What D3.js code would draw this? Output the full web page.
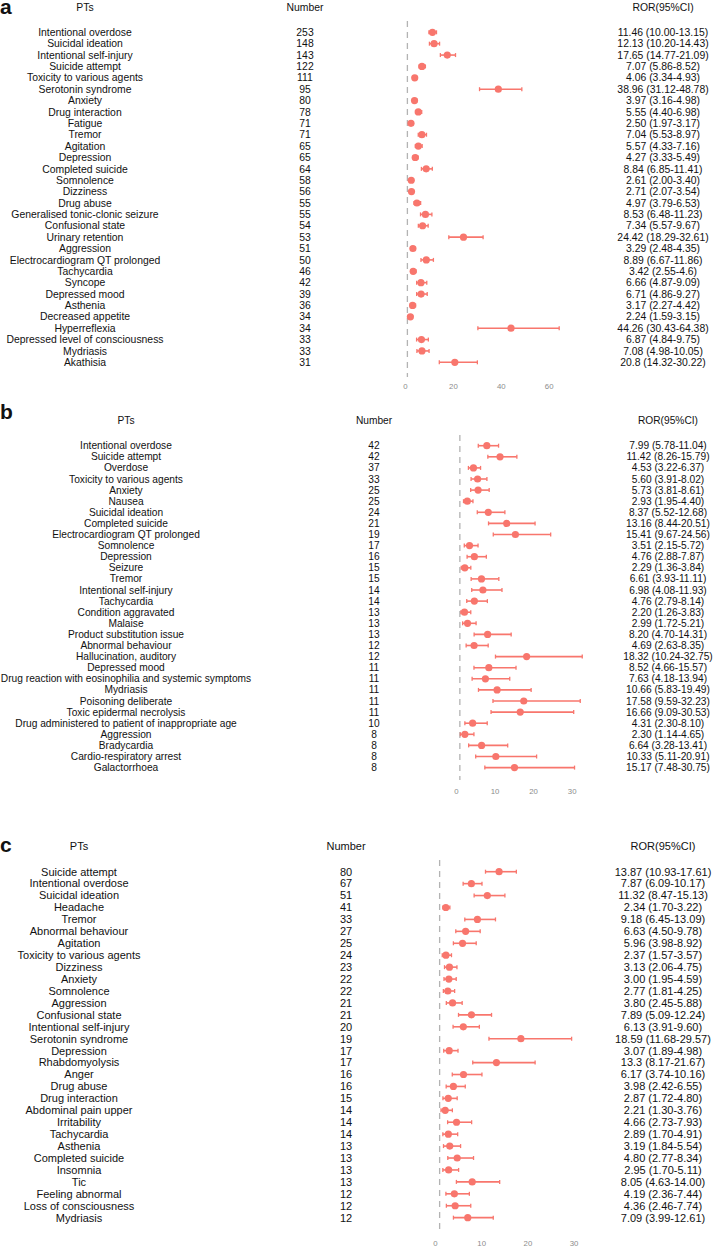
<!DOCTYPE html>
<html>
<head>
<meta charset="utf-8">
<script src="https://cdn.jsdelivr.net/npm/d3@7"></script>
<style>
    body { margin: 0; background: #fff; }
    svg text { font-family: "Liberation Sans", Arial, sans-serif; fill: #111; }
    text.tick { fill: #8c8c8c; }
</style>
</head>
<body>
<script>
// ---- panel a data ----
var aPTs = ["Intentional overdose", "Suicidal ideation", "Intentional self-injury", "Suicide attempt",
    "Toxicity to various agents", "Serotonin syndrome", "Anxiety", "Drug interaction", "Fatigue", "Tremor",
    "Agitation", "Depression", "Completed suicide", "Somnolence", "Dizziness", "Drug abuse",
    "Generalised tonic-clonic seizure", "Confusional state", "Urinary retention", "Aggression",
    "Electrocardiogram QT prolonged", "Tachycardia", "Syncope", "Depressed mood", "Asthenia",
    "Decreased appetite", "Hyperreflexia", "Depressed level of consciousness", "Mydriasis", "Akathisia"];
var aNumber = [253, 148, 143, 122, 111, 95, 80, 78, 71, 71, 65, 65, 64, 58, 56, 55, 55, 54, 53, 51,
    50, 46, 42, 39, 36, 34, 34, 33, 33, 31];
var aRor = ["11.46", "12.13", "17.65", "7.07", "4.06", "38.96", "3.97", "5.55", "2.50", "7.04", "5.57", "4.27",
    "8.84", "2.61", "2.71", "4.97", "8.53", "7.34", "24.42", "3.29", "8.89", "3.42", "6.66", "6.71", "3.17",
    "2.24", "44.26", "6.87", "7.08", "20.8"];
var aLo = ["10.00", "10.20", "14.77", "5.86", "3.34", "31.12", "3.16", "4.40", "1.97", "5.53", "4.33", "3.33",
    "6.85", "2.00", "2.07", "3.79", "6.48", "5.57", "18.29", "2.48", "6.67", "2.55", "4.87", "4.86", "2.27",
    "1.59", "30.43", "4.84", "4.98", "14.32"];
var aHi = ["13.15", "14.43", "21.09", "8.52", "4.93", "48.78", "4.98", "6.98", "3.17", "8.97", "7.16", "5.49",
    "11.41", "3.40", "3.54", "6.53", "11.23", "9.67", "32.61", "4.35", "11.86", "4.6", "9.09", "9.27", "4.42",
    "3.15", "64.38", "9.75", "10.05", "30.22"];
var aTicks = [0, 20, 40, 60];

// ---- panel b data ----
var bPTs = ["Intentional overdose", "Suicide attempt", "Overdose", "Toxicity to various agents", "Anxiety",
    "Nausea", "Suicidal ideation", "Completed suicide", "Electrocardiogram QT prolonged", "Somnolence",
    "Depression", "Seizure", "Tremor", "Intentional self-injury", "Tachycardia", "Condition aggravated",
    "Malaise", "Product substitution issue", "Abnormal behaviour", "Hallucination, auditory", "Depressed mood",
    "Drug reaction with eosinophilia and systemic symptoms", "Mydriasis", "Poisoning deliberate",
    "Toxic epidermal necrolysis", "Drug administered to patient of inappropriate age", "Aggression",
    "Bradycardia", "Cardio-respiratory arrest", "Galactorrhoea"];
var bNumber = [42, 42, 37, 33, 25, 25, 24, 21, 19, 17, 16, 15, 15, 14, 14, 13, 13, 13, 12, 12, 11, 11, 11,
    11, 11, 10, 8, 8, 8, 8];
var bRor = ["7.99", "11.42", "4.53", "5.60", "5.73", "2.93", "8.37", "13.16", "15.41", "3.51", "4.76", "2.29",
    "6.61", "6.98", "4.76", "2.20", "2.99", "8.20", "4.69", "18.32", "8.52", "7.63", "10.66", "17.58", "16.66",
    "4.31", "2.30", "6.64", "10.33", "15.17"];
var bLo = ["5.78", "8.26", "3.22", "3.91", "3.81", "1.95", "5.52", "8.44", "9.67", "2.15", "2.88", "1.36",
    "3.93", "4.08", "2.79", "1.26", "1.72", "4.70", "2.63", "10.24", "4.66", "4.18", "5.83", "9.59", "9.09",
    "2.30", "1.14", "3.28", "5.11", "7.48"];
var bHi = ["11.04", "15.79", "6.37", "8.02", "8.61", "4.40", "12.68", "20.51", "24.56", "5.72", "7.87", "3.84",
    "11.11", "11.93", "8.14", "3.83", "5.21", "14.31", "8.35", "32.75", "15.57", "13.94", "19.49", "32.23",
    "30.53", "8.10", "4.65", "13.41", "20.91", "30.75"];
var bTicks = [0, 10, 20, 30];

// ---- panel c data ----
var cPTs = ["Suicide attempt", "Intentional overdose", "Suicidal ideation", "Headache", "Tremor",
    "Abnormal behaviour", "Agitation", "Toxicity to various agents", "Dizziness", "Anxiety", "Somnolence",
    "Aggression", "Confusional state", "Intentional self-injury", "Serotonin syndrome", "Depression",
    "Rhabdomyolysis", "Anger", "Drug abuse", "Drug interaction", "Abdominal pain upper", "Irritability",
    "Tachycardia", "Asthenia", "Completed suicide", "Insomnia", "Tic", "Feeling abnormal",
    "Loss of consciousness", "Mydriasis"];
var cNumber = [80, 67, 51, 41, 33, 27, 25, 24, 23, 22, 22, 21, 21, 20, 19, 17, 17, 16, 16, 15, 14, 14, 14,
    13, 13, 13, 13, 12, 12, 12];
var cRor = ["13.87", "7.87", "11.32", "2.34", "9.18", "6.63", "5.96", "2.37", "3.13", "3.00", "2.77", "3.80",
    "7.89", "6.13", "18.59", "3.07", "13.3", "6.17", "3.98", "2.87", "2.21", "4.66", "2.89", "3.19", "4.80",
    "2.95", "8.05", "4.19", "4.36", "7.09"];
var cLo = ["10.93", "6.09", "8.47", "1.70", "6.45", "4.50", "3.98", "1.57", "2.06", "1.95", "1.81", "2.45",
    "5.09", "3.91", "11.68", "1.89", "8.17", "3.74", "2.42", "1.72", "1.30", "2.73", "1.70", "1.84", "2.77",
    "1.70", "4.63", "2.36", "2.46", "3.99"];
var cHi = ["17.61", "10.17", "15.13", "3.22", "13.09", "9.78", "8.92", "3.57", "4.75", "4.59", "4.25", "5.88",
    "12.24", "9.60", "29.57", "4.98", "21.67", "10.16", "6.55", "4.80", "3.76", "7.93", "4.91", "5.54", "8.34",
    "5.11", "14.00", "7.44", "7.74", "12.61"];
var cTicks = [0, 10, 20, 30];

var red = "#F8766D";

var svg = d3.select("body").append("svg")
    .attr("width", 714)
    .attr("height", 1259);

/*
 * Draw one forest panel
 */
function drawPanel(p)
{
    var g = svg.append("g").attr("class", "panel");
    var n = p.pts.length;

    var y = d3.scaleLinear()
        .domain([0, n - 1])
        .range([p.rowTop, p.rowTop + (n - 1) * p.rowStep]);
    var xMax = p.ticks[p.ticks.length - 1];
    var x = d3.scaleLinear()
        .domain([0, xMax])
        .range([p.x0, p.x0 + xMax * p.pxPerUnit]);

    // panel letter
    g.append("text")
        .attr("x", 0)
        .attr("y", p.letterY)
        .style("font-size", "21px")
        .style("font-weight", "bold")
        .text(p.letter);

    // headers
    var headers = [["PTs", p.ptX], ["Number", p.numX], ["ROR(95%CI)", p.rorX]];
    g.selectAll("text.header")
        .data(headers)
        .enter().append("text")
            .attr("class", "header")
            .attr("x", function(d) { return d[1]; })
            .attr("y", p.headerY)
            .attr("dy", "0.35em")
            .attr("text-anchor", "middle")
            .style("font-size", p.font + "px")
            .text(function(d) { return d[0]; });

    var rows = d3.range(n);
    var fontStyle = p.font + "px";

    g.selectAll("text.pt")
        .data(rows)
        .enter().append("text")
            .attr("class", "pt")
            .attr("x", p.ptX)
            .attr("y", function(i) { return y(i); })
            .attr("dy", "0.35em")
            .attr("text-anchor", "middle")
            .style("font-size", fontStyle)
            .text(function(i) { return p.pts[i]; });

    g.selectAll("text.num")
        .data(rows)
        .enter().append("text")
            .attr("class", "num")
            .attr("x", p.numX)
            .attr("y", function(i) { return y(i); })
            .attr("dy", "0.35em")
            .attr("text-anchor", "middle")
            .style("font-size", fontStyle)
            .text(function(i) { return p.number[i]; });

    g.selectAll("text.ror")
        .data(rows)
        .enter().append("text")
            .attr("class", "ror")
            .attr("x", p.rorX)
            .attr("y", function(i) { return y(i); })
            .attr("dy", "0.35em")
            .attr("text-anchor", "middle")
            .style("font-size", fontStyle)
            .text(function(i) { return p.ror[i] + " (" + p.lo[i] + "-" + p.hi[i] + ")"; });

    // reference line at ROR = 1
    g.append("line")
        .attr("x1", x(1)).attr("x2", x(1))
        .attr("y1", p.dashTop).attr("y2", p.dashBottom)
        .attr("stroke", "#b3b3b3")
        .attr("stroke-width", 1.3)
        .attr("stroke-dasharray", "6,5");

    // error bars
    g.selectAll("line.ci")
        .data(rows)
        .enter().append("line")
            .attr("class", "ci")
            .attr("x1", function(i) { return x(+p.lo[i]); })
            .attr("x2", function(i) { return x(+p.hi[i]); })
            .attr("y1", function(i) { return y(i); })
            .attr("y2", function(i) { return y(i); })
            .attr("stroke", red)
            .attr("stroke-width", 1.6);

    ["lo", "hi"].forEach(function(k)
    {
        g.selectAll("line.cap-" + k)
            .data(rows)
            .enter().append("line")
                .attr("class", "cap-" + k)
                .attr("x1", function(i) { return x(+p[k][i]); })
                .attr("x2", function(i) { return x(+p[k][i]); })
                .attr("y1", function(i) { return y(i) - 2; })
                .attr("y2", function(i) { return y(i) + 2; })
                .attr("stroke", red)
                .attr("stroke-width", 1.3);
    });

    g.selectAll("circle.pt")
        .data(rows)
        .enter().append("circle")
            .attr("class", "pt")
            .attr("cx", function(i) { return x(+p.ror[i]); })
            .attr("cy", function(i) { return y(i); })
            .attr("r", 3.6)
            .attr("fill", red);

    // x axis, labels only
    var axis = g.append("g")
        .attr("transform", "translate(0," + p.tickY + ")")
        .call(d3.axisBottom(x).tickValues(p.ticks).tickSize(0).tickPadding(0));
    axis.select(".domain").remove();
    axis.selectAll("text")
        .attr("class", "tick")
        .attr("dy", "0.35em")
        .attr("y", 0)
        .style("font-size", "7.8px")
        .style("fill", "#8c8c8c");
}

drawPanel({
    letter: "a", letterY: 14, headerY: 7,
    pts: aPTs, number: aNumber, ror: aRor, lo: aLo, hi: aHi, ticks: aTicks,
    ptX: 85, numX: 305, rorX: 663, font: 10.4,
    rowTop: 32.3, rowStep: 11.38,
    x0: 405, pxPerUnit: 2.395,
    dashTop: 21, dashBottom: 377, tickY: 386.7
});

drawPanel({
    letter: "b", letterY: 419, headerY: 420.7,
    pts: bPTs, number: bNumber, ror: bRor, lo: bLo, hi: bHi, ticks: bTicks,
    ptX: 126, numX: 374, rorX: 668, font: 10.2,
    rowTop: 445.7, rowStep: 11.1,
    x0: 456, pxPerUnit: 3.855,
    dashTop: 435, dashBottom: 780, tickY: 791
});

drawPanel({
    letter: "c", letterY: 851.5, headerY: 845.7,
    pts: cPTs, number: cNumber, ror: cRor, lo: cLo, hi: cHi, ticks: cTicks,
    ptX: 79, numX: 346, rorX: 663, font: 11,
    rowTop: 871.7, rowStep: 11.93,
    x0: 435, pxPerUnit: 4.62,
    dashTop: 860, dashBottom: 1234, tickY: 1243.3
});
</script>
</body>
</html>
